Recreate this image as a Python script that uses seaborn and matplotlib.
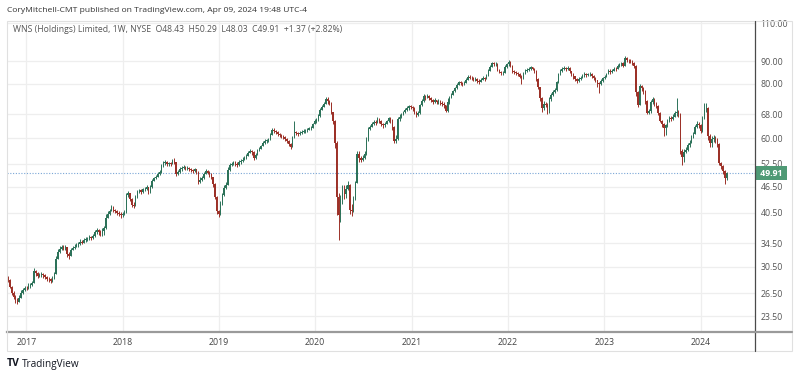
import numpy as np
import pandas as pd
import matplotlib
matplotlib.use("Agg")
import matplotlib.pyplot as plt
import seaborn as sns
from matplotlib.patches import Rectangle
from matplotlib.lines import Line2D
from matplotlib.ticker import NullLocator

# weekly WNS candles (first week starts 2016-10-24)
first_open = 28.9
closes = [
    28.4, 27.4, 26.5, 26.0, 25.6, 25.3, 25.9, 26.6, 27.0, 27.3, 27.2,
    27.5, 27.7, 28.0, 29.8, 29.5, 29.0, 29.2, 29.3, 29.1, 28.8, 28.6, 28.5, 28.3, 28.6,
    29.3, 31.8, 33.0, 33.5, 33.8, 33.6, 33.9, 32.6, 32.2, 33.3, 33.7, 33.9, 34.1, 34.3, 34.8,
    34.6, 35.0, 35.2, 35.3, 35.6, 35.4, 35.8, 36.5, 37.0, 36.6, 36.4, 36.8, 37.3,
    39.5, 40.2, 40.8, 41.7, 41.2, 40.9, 40.5, 40.2, 40.0, 40.2,
    40.6, 44.5, 44.9, 43.6, 42.2, 42.0, 44.0, 45.3, 45.6, 45.2, 45.8, 46.0, 46.3, 45.1,
    46.4, 48.0, 48.6, 49.0, 49.6, 50.2, 51.8, 52.7, 52.9, 52.3, 52.6, 52.5, 53.2, 53.0,
    49.6, 50.3, 51.0, 51.3, 51.6, 51.2, 51.4, 51.0, 50.8, 50.5, 50.9, 50.2,
    47.6, 48.2, 48.7, 49.8, 50.5, 50.0, 49.7, 48.8, 47.2, 44.0, 40.8, 40.3,
    42.5, 44.5, 46.2, 47.0, 50.8, 52.0, 52.4, 52.8, 52.3, 52.0, 52.8, 53.2, 53.6, 54.1, 54.6,
    55.4, 56.2, 55.8, 54.0, 55.0, 56.3, 56.8, 57.5, 58.6, 59.0, 59.3, 59.6, 61.0, 62.8,
    62.4, 62.0, 61.5, 61.0, 60.6, 60.3, 59.8, 59.2, 58.3, 57.3, 60.3, 62.0,
    61.8, 61.4, 61.6, 61.9, 62.3, 62.5, 62.7, 63.2, 63.4, 64.5, 65.8,
    66.0, 67.4, 69.8, 70.8, 72.0, 73.6, 73.0, 72.3, 69.0, 65.8, 58.5, 44.0, 40.0,
    43.5, 45.0, 44.6, 46.0, 47.0, 41.0, 40.8, 43.6, 47.5, 55.2, 54.0, 53.6, 54.0,
    55.2, 59.5, 63.0, 63.6, 64.6, 65.5, 65.0, 66.4, 65.8, 64.6, 64.2, 64.8, 65.6,
    66.6, 66.0, 63.6, 59.0, 59.6, 66.3, 67.2, 68.0, 68.8, 69.6, 70.4, 71.0, 70.6,
    70.2, 69.0, 67.8, 68.5, 71.4, 73.0, 74.8, 74.4, 75.0, 74.2, 73.4, 72.8, 73.2,
    72.6, 73.0, 72.4, 72.0, 71.4, 69.4, 72.5, 74.2, 75.5, 76.8, 78.0, 79.5, 80.6,
    80.2, 79.8, 80.4, 81.6, 83.0, 82.6, 82.2, 81.8, 82.0, 81.2, 80.8, 81.6, 82.4,
    82.0, 83.5, 85.5, 87.5, 89.0, 88.6, 88.8, 86.0, 85.2, 84.6, 84.8, 87.5, 88.6,
    89.5, 88.0, 85.5, 85.0, 84.6, 84.0, 83.0, 82.4, 84.2, 85.5, 86.0, 86.6, 87.2,
    86.5, 85.4, 82.0, 78.6, 74.0, 70.4, 72.0, 71.6, 70.8, 73.6, 75.2, 76.5, 77.2,
    80.5, 84.0, 85.5, 86.3, 86.9, 86.4, 86.8, 85.4, 84.2, 83.2, 82.0, 81.2, 82.0,
    82.6, 83.4, 84.2, 83.8, 84.0, 84.2, 83.2, 82.4, 81.4, 80.2, 79.8, 81.0, 82.4,
    83.0, 84.0, 85.5, 85.0, 85.6, 86.5, 86.2, 87.8, 88.6, 89.0, 88.0, 91.4, 90.6,
    90.4, 89.8, 89.0, 88.0, 76.4, 71.6, 79.0, 78.0, 76.8, 73.0, 68.6, 69.2, 72.6,
    73.6, 72.0, 71.2, 68.6, 65.8, 64.8, 63.2, 64.2, 65.6, 66.8, 66.4, 67.2, 68.4,
    68.8, 68.0, 56.0, 54.4, 55.8, 56.4, 57.8, 58.6, 60.2, 61.4, 63.6, 64.8, 64.2,
    62.4, 66.8, 69.8, 70.4, 60.8, 58.6, 59.6, 60.2, 59.4, 58.2, 52.6, 51.8, 50.6, 48.54, 49.91,
]
highs = [
    29.0, 28.6, 27.6, 26.8, 26.3, 25.9, 26.2, 26.9, 27.3, 27.6, 27.6,
    27.9, 28.0, 28.3, 30.3, 30.0, 29.6, 29.5, 29.7, 29.5, 29.4, 29.0, 28.9, 28.7, 29.0,
    29.7, 32.3, 33.4, 34.0, 34.2, 34.1, 34.2, 33.9, 32.9, 33.6, 34.0, 34.3, 34.6, 34.8, 35.2,
    35.1, 35.4, 35.6, 35.7, 36.0, 35.8, 36.3, 37.0, 37.4, 37.2, 37.0, 37.3, 37.8,
    40.2, 40.8, 41.3, 42.1, 41.9, 41.4, 41.2, 40.8, 40.6, 40.6,
    41.0, 45.0, 45.4, 45.0, 43.8, 42.8, 44.4, 45.7, 46.0, 45.8, 46.2, 46.4, 46.8, 46.4,
    46.8, 48.4, 49.0, 49.5, 50.1, 50.8, 52.3, 53.3, 53.6, 53.2, 53.0, 53.0, 53.9, 54.0,
    53.0, 50.8, 51.5, 51.8, 52.1, 51.8, 51.9, 51.6, 51.3, 51.0, 51.3, 51.0,
    50.4, 48.8, 49.2, 50.3, 51.0, 50.8, 50.4, 49.9, 49.0, 47.5, 44.3, 41.2,
    43.0, 45.0, 46.8, 47.6, 51.5, 52.6, 53.0, 53.3, 53.2, 52.8, 53.4, 53.8, 54.2, 54.6, 55.2,
    56.0, 56.8, 56.5, 56.0, 55.6, 56.8, 57.3, 58.0, 59.2, 59.6, 59.9, 60.1, 61.6, 63.4,
    63.2, 62.7, 62.4, 61.8, 61.4, 61.0, 60.6, 60.0, 59.5, 58.6, 60.8, 65.6,
    62.4, 62.1, 62.4, 62.5, 63.0, 63.0, 63.2, 63.8, 63.9, 65.0, 66.3,
    66.6, 68.0, 70.4, 71.5, 72.6, 74.4, 74.6, 73.5, 72.8, 69.0, 66.0, 59.0, 45.0,
    44.5, 46.8, 47.0, 46.8, 47.8, 47.2, 42.5, 44.2, 48.0, 56.0, 56.0, 54.6, 54.8,
    56.0, 60.4, 63.8, 64.4, 65.3, 66.2, 66.0, 67.0, 66.8, 66.0, 65.0, 65.5, 66.2,
    67.2, 67.0, 66.5, 64.0, 61.0, 67.0, 68.0, 68.6, 69.4, 70.2, 71.0, 71.6, 71.6,
    71.0, 70.6, 69.3, 69.2, 72.0, 73.6, 75.6, 75.3, 75.8, 75.4, 74.6, 73.8, 74.0,
    73.5, 73.8, 73.4, 73.0, 72.6, 71.6, 74.0, 75.0, 76.2, 77.5, 78.6, 80.2, 81.3,
    81.2, 80.8, 81.2, 82.4, 83.8, 83.6, 83.2, 82.8, 82.8, 82.3, 81.8, 82.4, 83.2,
    83.0, 84.2, 86.2, 88.2, 89.8, 89.6, 89.6, 89.0, 86.4, 85.6, 85.6, 88.2, 89.2,
    90.8, 90.0, 88.4, 86.0, 85.6, 85.2, 84.4, 83.6, 85.0, 86.2, 86.8, 87.4, 87.8,
    87.5, 86.8, 85.8, 82.2, 78.8, 74.4, 73.0, 72.8, 72.4, 74.4, 76.0, 77.2, 78.0,
    81.2, 84.8, 86.4, 87.2, 87.6, 87.4, 87.6, 87.2, 85.6, 84.6, 83.4, 82.6, 82.8,
    83.4, 84.2, 85.0, 84.8, 84.8, 85.0, 84.6, 83.6, 82.8, 81.6, 80.8, 81.8, 83.0,
    83.8, 84.8, 86.2, 86.2, 86.4, 87.2, 87.2, 88.6, 89.4, 89.8, 89.6, 92.6, 92.0,
    91.2, 91.0, 90.4, 89.6, 88.4, 76.8, 80.0, 79.6, 78.4, 77.2, 73.4, 70.0, 73.4,
    74.6, 74.0, 72.6, 71.6, 69.0, 66.2, 65.0, 64.8, 66.4, 67.4, 67.4, 68.0, 69.2,
    74.0, 69.8, 68.6, 56.6, 56.6, 57.2, 58.6, 59.4, 61.0, 62.0, 64.4, 65.6, 65.4,
    64.6, 67.4, 72.4, 72.4, 70.6, 61.4, 60.8, 61.0, 60.6, 60.0, 58.4, 53.0, 52.2, 50.8, 50.29,
]
lows = [
    28.1, 27.2, 26.2, 25.7, 25.2, 25.0, 25.3, 25.8, 26.4, 26.8, 26.9,
    27.1, 27.2, 27.5, 28.0, 29.0, 28.7, 28.8, 28.9, 28.7, 28.5, 28.3, 28.1, 28.0, 28.1,
    28.5, 29.3, 31.8, 32.8, 33.2, 33.3, 33.3, 32.0, 31.8, 32.2, 33.2, 33.5, 33.8, 33.9, 34.2,
    34.3, 34.5, 34.7, 34.9, 35.1, 35.0, 35.3, 35.7, 36.3, 36.1, 35.9, 35.8, 36.0,
    37.2, 39.3, 40.0, 40.8, 40.7, 40.4, 40.1, 39.8, 39.5, 39.7,
    40.0, 40.5, 44.0, 43.2, 41.8, 41.5, 41.9, 43.8, 45.0, 44.8, 45.0, 45.4, 45.7, 44.8,
    45.0, 46.2, 47.8, 48.3, 48.8, 49.4, 50.0, 51.6, 52.0, 51.8, 51.9, 51.8, 52.3, 52.4,
    49.2, 49.4, 50.0, 50.6, 51.0, 50.7, 50.8, 50.6, 50.2, 50.0, 50.2, 49.8,
    47.2, 47.5, 48.0, 48.5, 49.7, 49.6, 49.0, 48.3, 46.5, 43.5, 40.2, 39.6,
    40.0, 42.3, 44.2, 45.8, 47.0, 50.5, 51.8, 52.0, 51.9, 51.5, 51.8, 52.5, 53.0, 53.4, 53.9,
    54.5, 55.4, 55.0, 53.6, 53.8, 54.9, 56.0, 56.8, 57.6, 58.3, 58.5, 58.9, 59.4, 61.0,
    61.8, 61.3, 60.8, 60.4, 60.0, 59.6, 59.2, 58.5, 57.5, 56.6, 57.2, 60.0,
    61.0, 60.8, 61.0, 61.2, 61.6, 61.8, 62.0, 62.5, 62.8, 63.2, 64.5,
    65.0, 65.6, 67.2, 69.5, 70.6, 71.8, 72.0, 71.5, 68.0, 64.5, 57.0, 40.0, 35.0,
    38.5, 42.5, 43.6, 43.8, 45.6, 40.2, 39.8, 40.6, 43.4, 47.5, 53.0, 52.8, 53.2,
    53.8, 55.0, 59.2, 62.6, 63.5, 64.4, 64.3, 65.0, 65.0, 64.0, 63.4, 63.6, 64.5,
    65.2, 65.0, 62.8, 58.4, 58.6, 59.5, 65.8, 66.8, 67.8, 68.5, 69.3, 69.8, 70.0,
    69.4, 68.3, 67.0, 67.3, 68.3, 71.0, 72.6, 73.5, 74.0, 73.5, 72.6, 72.0, 72.3,
    71.8, 72.0, 71.5, 71.2, 70.5, 68.8, 69.0, 72.0, 74.0, 75.2, 76.5, 77.8, 79.4,
    79.5, 79.0, 79.5, 80.2, 81.5, 81.8, 81.4, 81.0, 81.0, 80.4, 80.0, 80.6, 81.4,
    81.2, 82.0, 83.6, 85.4, 87.2, 87.8, 87.8, 85.5, 84.5, 83.8, 83.8, 84.6, 87.0,
    88.0, 87.2, 84.8, 84.2, 83.6, 83.2, 82.2, 80.0, 82.0, 84.0, 85.0, 85.6, 86.0,
    85.8, 84.6, 81.2, 77.6, 73.0, 68.8, 69.6, 70.6, 68.2, 68.4, 73.0, 75.0, 76.0,
    77.0, 80.2, 83.6, 85.0, 85.8, 85.6, 85.8, 84.6, 83.4, 82.0, 81.2, 80.4, 80.8,
    81.4, 82.2, 83.0, 83.0, 83.2, 83.2, 82.4, 81.6, 80.6, 78.6, 76.0, 79.4, 80.8,
    82.0, 82.8, 84.0, 84.2, 84.6, 85.4, 85.4, 86.2, 87.4, 88.0, 87.2, 88.2, 89.6,
    89.2, 89.0, 88.2, 87.0, 75.0, 70.6, 71.8, 76.8, 75.8, 72.0, 68.0, 68.0, 68.6,
    72.0, 71.2, 70.4, 67.8, 65.2, 63.8, 60.8, 61.0, 63.8, 65.2, 65.6, 66.0, 67.2,
    67.6, 67.2, 55.2, 52.0, 52.8, 55.4, 56.2, 57.4, 58.4, 60.0, 61.2, 63.2, 63.4,
    61.6, 62.0, 66.4, 69.0, 59.4, 57.4, 57.2, 58.8, 58.6, 57.4, 52.0, 51.0, 49.8, 47.2, 48.03,
]
assert len(closes) == len(highs) == len(lows)

price_ticks = [23.5, 26.5, 30.5, 34.5, 40.5, 46.5, 52.5, 60, 68, 80, 90, 110]
year_labels = ["2017", "2018", "2019", "2020", "2021", "2022", "2023", "2024"]

header = "CoryMitchell-CMT published on TradingView.com, Apr 09, 2024 19:48 UTC-4"
legend = "WNS (Holdings) Limited, 1W, NYSE  O48.43  H50.29  L48.03  C49.91  +1.37 (+2.82%)"

up_col = "#2c7259"
dn_col = "#9c3128"

sns.set_theme(style="white")
plt.rcParams['font.family'] = ['Open Sans', 'DejaVu Sans']

df = pd.DataFrame({
    "date": pd.date_range("2016-10-24", periods=len(closes), freq="7D"),
    "close": closes, "high": highs, "low": lows,
})
df["open"] = [first_open] + closes[:-1]
df["high"] = df[["high", "open", "close"]].max(axis=1)
df["low"] = df[["low", "open", "close"]].min(axis=1)
df["up"] = df["close"] >= df["open"]
colors = np.where(df["up"], up_col, dn_col)

fig = plt.figure(figsize=(8, 3.77), dpi=100)
ax = fig.add_axes([7/800, 1-332/377, 748/800, 311/377])

ax.vlines(df["date"], df["low"], df["high"], colors=colors, lw=0.7, zorder=3)
body_lo = df[["open", "close"]].min(axis=1)
body_h = (df["open"] - df["close"]).abs().clip(lower=0.1)
ax.bar(df["date"], body_h, bottom=body_lo, width=5.2, color=colors, lw=0, zorder=4)

ax.set_yscale("log")
ax.set_ylim(21.6, 111.3)
ax.set_xlim(pd.Timestamp("2016-10-20"), pd.Timestamp("2024-07-25"))
ax.yaxis.set_minor_locator(NullLocator())
ax.set_yticks(price_ticks)
ax.set_yticklabels([f"{v:.2f}" for v in price_ticks])
ax.yaxis.tick_right()
ax.set_xticks([pd.Timestamp(f"{y}-01-01") for y in year_labels])
ax.set_xticklabels(year_labels)
ax.tick_params(axis="y", length=0, pad=4, labelsize=6.3, labelcolor="#555555")
ax.tick_params(axis="x", length=0, pad=4.5, labelsize=6.3, labelcolor="#444444")
ax.grid(True, color="#eeeeee", lw=0.9)
ax.set_axisbelow(True)
for s in ["top", "left", "right"]:
    ax.spines[s].set_visible(False)
ax.spines["bottom"].set_color("#9a9a9a")
ax.spines["bottom"].set_linewidth(1.6)

# last price line and label
last = closes[-1]
ax.axhline(last, color="#7aa6d6", lw=0.8, ls=(0, (1, 1.5)), zorder=2)
ax.text(1.004, last, f" {last:.2f} ", transform=ax.get_yaxis_transform(),
        ha="left", va="center", fontsize=6.3, color="white", fontweight="bold",
        bbox=dict(boxstyle="square,pad=0.25", fc="#4f9a75", ec="none"))

# chart frame
fig.add_artist(Rectangle((7/800, 1-351/377), 785/800, 330/377, transform=fig.transFigure,
                         fill=False, ec="#e0e0e0", lw=0.8))
fig.add_artist(Line2D([755/800, 755/800], [1-351/377, 1-21/377], transform=fig.transFigure,
                      color="#4a4a4a", lw=0.9))
fig.add_artist(Line2D([755/800, 792/800], [1-332/377, 1-332/377], transform=fig.transFigure,
                      color="#9a9a9a", lw=1.6))

fig.text(7/800, 1-10/377, header, fontsize=6.1, color="#333333", va="center")
fig.text(13/800, 1-30/377, legend, fontsize=6.2, color="#555555", va="center")
fig.text(7/800, 1-364/377, "TV", fontsize=7.5, fontweight="bold", color="#131722", va="center")
fig.text(22/800, 1-364/377, "TradingView", fontsize=7.2, color="#131722", va="center")

fig.savefig("out.png", dpi=100)
